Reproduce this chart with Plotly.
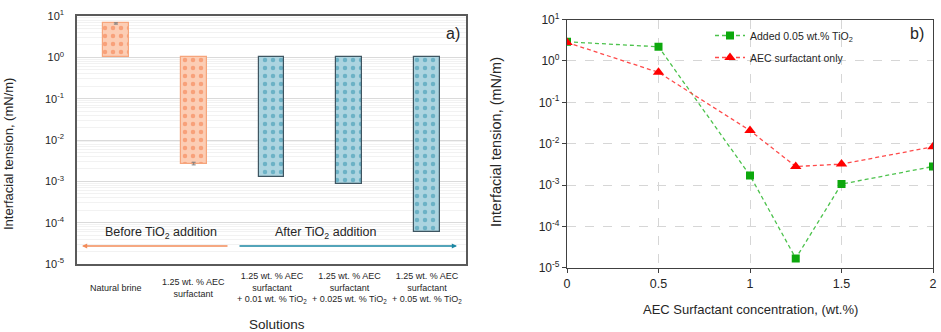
import numpy as np
import plotly.graph_objects as go

# ---------------- data ----------------
# panel a)
solutions = [
    "Natural brine",
    "1.25 wt. % AEC<br>surfactant",
    "1.25 wt. % AEC<br>surfactant<br>+ 0.01 wt. % TiO<sub>2</sub>",
    "1.25 wt. % AEC<br>surfactant<br>+ 0.025 wt. % TiO<sub>2</sub>",
    "1.25 wt. % AEC<br>surfactant<br>+ 0.05 wt. % TiO<sub>2</sub>",
]
ift_a = [6.6, 0.0027, 0.0013, 0.00084, 0.000058]
err_a = [0.25, 0.0002, 0.0, 0.0, 0.0]
group_a = ["before", "before", "after", "after", "after"]

# panel b)
conc = [0, 0.5, 1, 1.25, 1.5, 2]
ift_tio2 = [2.9, 2.2, 0.0017, 0.0000168, 0.00105, 0.0028]
ift_aec = [2.8, 0.53, 0.0207, 0.0028, 0.0032, 0.0084]

decades = [-5, -4, -3, -2, -1, 0, 1]
decade_labels = ["10<sup>%d</sup>" % d for d in decades]

W, H = 941, 332
FONT = "Liberation Sans, Arial, sans-serif"
TXT = "#262626"

def px_x(p):
    return p / W

def px_y(p):
    return 1 - p / H

fig = go.Figure()

# ---- panel a bars (drawn from base 1 on a log axis) ----
ORANGE_BG, ORANGE_FG, ORANGE_LN = "#FCCDB4", "#F8A17A", "#F6A57C"
BLUE_BG, BLUE_FG, BLUE_LN = "#ACD4E0", "#6CB2C6", "#3E5561"
for grp, bg, fg, ln in [("before", ORANGE_BG, ORANGE_FG, ORANGE_LN),
                        ("after", BLUE_BG, BLUE_FG, BLUE_LN)]:
    xs = [s for s, g in zip(solutions, group_a) if g == grp]
    vs = [v for v, g in zip(ift_a, group_a) if g == grp]
    fig.add_trace(go.Bar(
        x=xs, y=[v - 1 for v in vs], base=[1] * len(vs),
        width=0.33, xaxis="x", yaxis="y", showlegend=False,
        marker=dict(color=bg, line=dict(color=ln, width=1.2),
                    pattern=dict(shape=".", fillmode="replace", bgcolor=bg,
                                 fgcolor=fg, size=8, solidity=0.25)),
        hovertext=[str(v) for v in vs], hoverinfo="x+text",
    ))

# small error bars for panel a
fig.add_trace(go.Scatter(
    x=solutions[:2], y=ift_a[:2], mode="markers", xaxis="x", yaxis="y",
    marker=dict(size=1, color="rgba(0,0,0,0)"), showlegend=False,
    error_y=dict(type="data", array=err_a[:2], color="#7F7F7F", thickness=1, width=2),
    hoverinfo="skip",
))

# ---- panel b lines ----
fig.add_trace(go.Scatter(
    x=conc, y=ift_tio2, mode="lines+markers", xaxis="x2", yaxis="y2",
    name="Added 0.05 wt.% TiO<sub>2</sub>", legendgroup="g1",
    line=dict(color="#4CC24C", width=1.3, dash="4px,3px"),
    marker=dict(symbol="square", size=8, color="#0DA80D"),
))
fig.add_trace(go.Scatter(
    x=conc, y=ift_aec, mode="lines+markers", xaxis="x2", yaxis="y2",
    name="AEC surfactant only", legendgroup="g2",
    line=dict(color="#FF4A4A", width=1.3, dash="4px,3px"),
    marker=dict(symbol="triangle-up", size=10, color="#FF0000"),
))

minor_vals = [k * 10.0 ** e for e in range(-5, 1) for k in range(2, 10)]

# domains
xa_dom = [px_x(77), px_x(466)]
ya_dom = [px_y(264), px_y(16)]
xb_dom = [px_x(567), px_x(933)]
yb_dom = [px_y(267.7), px_y(19.6)]

def note(x, y, text, size, **kw):
    d = dict(x=px_x(x), y=px_y(y), xref="paper", yref="paper", text=text,
             showarrow=False, xanchor="center", yanchor="middle",
             font=dict(size=size, family=FONT, color=TXT))
    d.update(kw)
    return d

annotations = []
# panel a x labels (vertically centered multi-line)
for s in solutions:
    annotations.append(dict(x=s, xref="x", y=px_y(287.5), yref="paper",
                            text=s, showarrow=False, xanchor="center", yanchor="middle",
                            font=dict(size=9, family=FONT, color=TXT), align="center"))
annotations += [
    note(277, 324, "Solutions", 13.5),
    note(8, 154, "Interfacial tension, (mN/m)", 13, textangle=-90),
    note(496, 142, "Interfacial tension, (mN/m)", 14.5, textangle=-90),
    note(750, 309, "AEC Surfactant concentration, (wt.%)", 13),
    note(453, 33, "a)", 16),
    note(917, 34, "b)", 16),
    note(161, 233, "Before TiO<sub>2</sub> addition", 12.5),
    note(325.5, 233, "After TiO<sub>2</sub> addition", 12.5),
    # arrows
    dict(x=px_x(82), y=px_y(246), xref="paper", yref="paper", ax=147, ay=0,
         showarrow=True, arrowhead=2, arrowsize=0.8, arrowwidth=1.3,
         arrowcolor="#F28C5A", text=""),
    dict(x=px_x(457), y=px_y(246), xref="paper", yref="paper", ax=-219, ay=0,
         showarrow=True, arrowhead=2, arrowsize=0.8, arrowwidth=1.3,
         arrowcolor="#1B87A3", text=""),
]

fig.update_layout(
    width=W, height=H, autosize=False,
    margin=dict(l=0, r=0, t=0, b=0, autoexpand=False),
    paper_bgcolor="white", plot_bgcolor="white",
    font=dict(family=FONT, color=TXT),
    bargap=0,
    xaxis=dict(domain=xa_dom, anchor="y", type="category", automargin=False,
               range=[-0.5, len(solutions) - 0.5], showticklabels=False,
               showgrid=False, showline=True, mirror=True,
               linecolor="#5A5A5A", linewidth=1.5, zeroline=False, ticks=""),
    yaxis=dict(domain=ya_dom, anchor="x", type="log", range=[-5, 1], automargin=False,
               tickmode="array", tickvals=[10.0 ** d for d in decades],
               ticktext=decade_labels, tickfont=dict(size=11, color=TXT),
               ticklabelstandoff=9,
               showgrid=True, gridcolor="#DADADA", gridwidth=1,
               minor=dict(tickmode="array", tickvals=minor_vals, showgrid=True,
                          gridcolor="#F2F2F2", gridwidth=1, ticks=""),
               showline=True, mirror=True, linecolor="#5A5A5A", linewidth=1.5,
               zeroline=False, ticks=""),
    xaxis2=dict(domain=xb_dom, anchor="y2", range=[0, 2], tickmode="array",
                automargin=False,
                tickvals=[0, 0.5, 1, 1.5, 2], ticktext=["0", "0.5", "1", "1.5", "2"],
                tickfont=dict(size=12.5, color=TXT),
                ticks="outside", ticklen=4, tickcolor="#404040",
                showgrid=True, gridcolor="#D6D6D6", griddash="dash",
                showline=True, mirror=True, linecolor="#404040", linewidth=1.3,
                zeroline=False),
    yaxis2=dict(domain=yb_dom, anchor="x2", type="log", range=[-5, 1],
                automargin=False,
                tickmode="array", tickvals=[10.0 ** d for d in decades],
                ticktext=decade_labels, tickfont=dict(size=12, color=TXT),
                ticks="outside", ticklen=4, tickcolor="#404040",
                showgrid=True, gridcolor="#D6D6D6", griddash="dash",
                showline=True, mirror=True, linecolor="#404040", linewidth=1.3,
                zeroline=False),
    legend=dict(x=px_x(710), y=px_y(21), xanchor="left", yanchor="top",
                bgcolor="rgba(255,255,255,0)", borderwidth=0,
                font=dict(size=10.5, family=FONT, color=TXT),
                tracegroupgap=3),
    annotations=annotations,
)

fig.write_html("out.html", config={"displayModeBar": False},
               post_script="document.body.style.margin='0';document.body.style.padding='0';")
